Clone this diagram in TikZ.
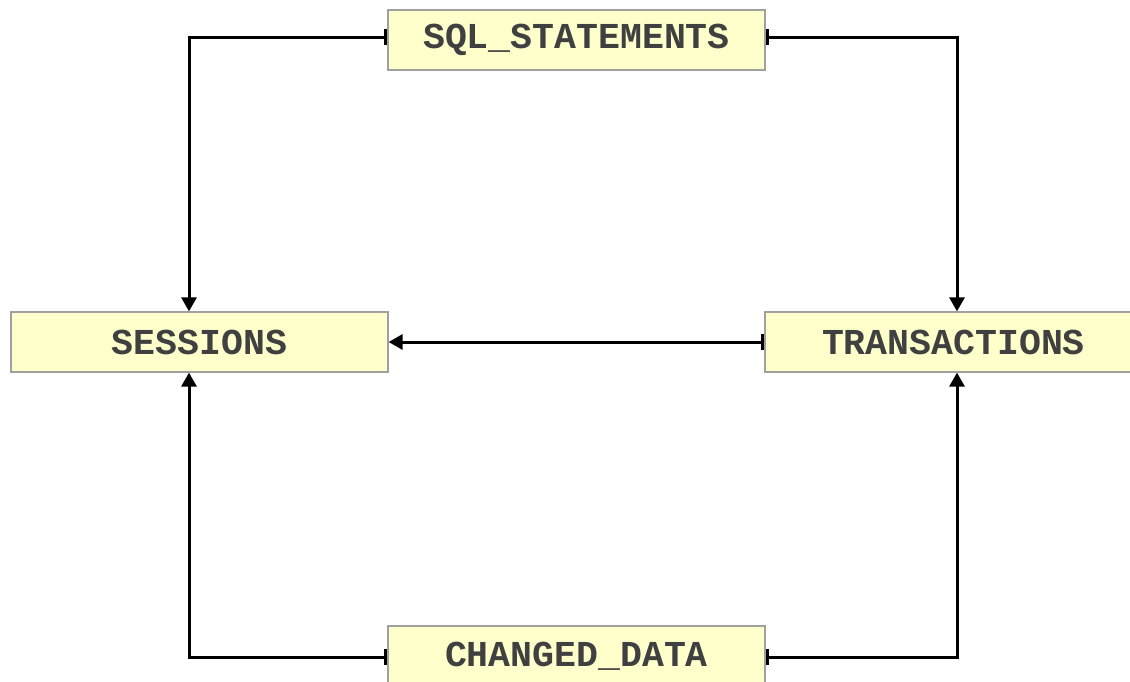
\documentclass[tikz,border=0pt]{standalone}
\usepackage{fontspec}
\newfontfamily\boxfont{Liberation Mono}
\usetikzlibrary{arrows.meta}
\definecolor{boxfill}{HTML}{FFFFCC}
\definecolor{boxline}{HTML}{A0A0A0}
\definecolor{boxtext}{HTML}{404040}
\tikzset{
  entity/.style={draw=boxline, line width=1.2pt, fill=boxfill, minimum width=377pt, minimum height=60pt,
    inner sep=0pt, text=boxtext, font=\boxfont\bfseries\fontsize{36.5}{40}\selectfont},
  conn/.style={line width=3pt, draw=black, line join=miter, {Bar[width=16pt,line width=3.5pt]}-{Triangle[width=15pt,length=14pt]}},
}
\begin{document}
\begin{tikzpicture}[x=1pt,y=-1pt]
\useasboundingbox (0,0) rectangle (1130,681);
\clip (0,0) rectangle (1130,681);
\node[entity] (sql) at (576.5,40) {SQL\_STATEMENTS};
\node[entity] (chg) at (576.5,656) {CHANGED\_DATA};
\node[entity] (ses) at (199.5,342) {SESSIONS};
\node[entity] (trn) at (953.5,342) {TRANSACTIONS};
\draw[conn] ([yshift=3pt]sql.west) -| ([xshift=-10.5pt]ses.north);
\draw[conn] ([yshift=3pt]sql.east) -| ([xshift=3.5pt]trn.north);
\draw[conn] (trn.west) -- (ses.east);
\draw[conn] ([yshift=-1pt]chg.west) -| ([xshift=-10.5pt]ses.south);
\draw[conn] ([yshift=-1pt]chg.east) -| ([xshift=3.5pt]trn.south);
\end{tikzpicture}
\end{document}
